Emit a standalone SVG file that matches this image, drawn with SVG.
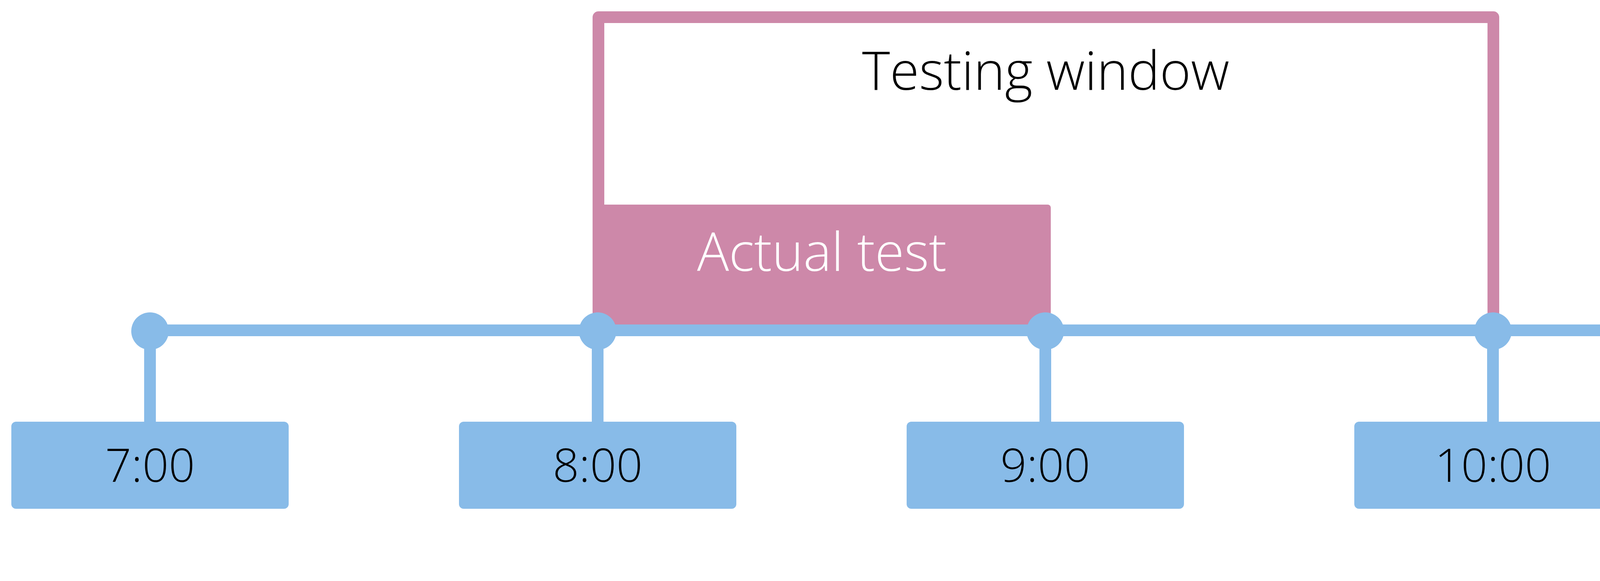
<svg xmlns="http://www.w3.org/2000/svg" width="5348" height="1488" viewBox="0 0 5348 1488">
<style>
.blue{fill:#88BBE8}
.bl{stroke:#88BBE8;stroke-width:30;fill:none}
.pk{stroke:#CD88A9;stroke-width:30;fill:none;stroke-linejoin:round}
.t{font-family:"Open Sans","Liberation Sans",sans-serif;font-weight:300;text-anchor:middle}
.lbl{font-size:118px;fill:#000}
</style>
<rect width="5348" height="1488" fill="#fff"/>
<g id="testing-window">
<path class="pk" d="M1532 846 V44 H3823 V846"/>
<text class="t" x="2677" y="230" font-size="136" fill="#000">Testing window</text>
</g>
<g id="actual-test">
<path d="M1517 524 H2682 a8 8 0 0 1 8 8 V846 H1517 Z" fill="#CD88A9"/>
<text class="t" x="2104" y="694" font-size="136" fill="#fff">Actual test</text>
</g>
<g id="connectors">
<path class="bl" d="M384 846 H4968"/>
<path class="bl" d="M384 846 V1085 M1530 846 V1085 M2676 846 V1085 M3822 846 V1085 M4968 846 V1085"/>
<circle class="blue" cx="384" cy="848" r="48"/>
<circle class="blue" cx="1530" cy="848" r="48"/>
<circle class="blue" cx="2676" cy="848" r="48"/>
<circle class="blue" cx="3822" cy="848" r="48"/>
<circle class="blue" cx="4968" cy="848" r="48"/>
</g>
<g id="t700"><rect class="blue" x="29" y="1080" width="710" height="223" rx="12"/><text class="t lbl" x="384" y="1234">7:00</text></g>
<g id="t800"><rect class="blue" x="1175" y="1080" width="710" height="223" rx="12"/><text class="t lbl" x="1530" y="1234">8:00</text></g>
<g id="t900"><rect class="blue" x="2321" y="1080" width="710" height="223" rx="12"/><text class="t lbl" x="2676" y="1234">9:00</text></g>
<g id="t1000"><rect class="blue" x="3467" y="1080" width="710" height="223" rx="12"/><text class="t lbl" x="3822" y="1234">10:00</text></g>
<g id="t1100"><rect class="blue" x="4613" y="1080" width="710" height="223" rx="12"/><text class="t lbl" x="4968" y="1234">11:00</text></g>
</svg>
